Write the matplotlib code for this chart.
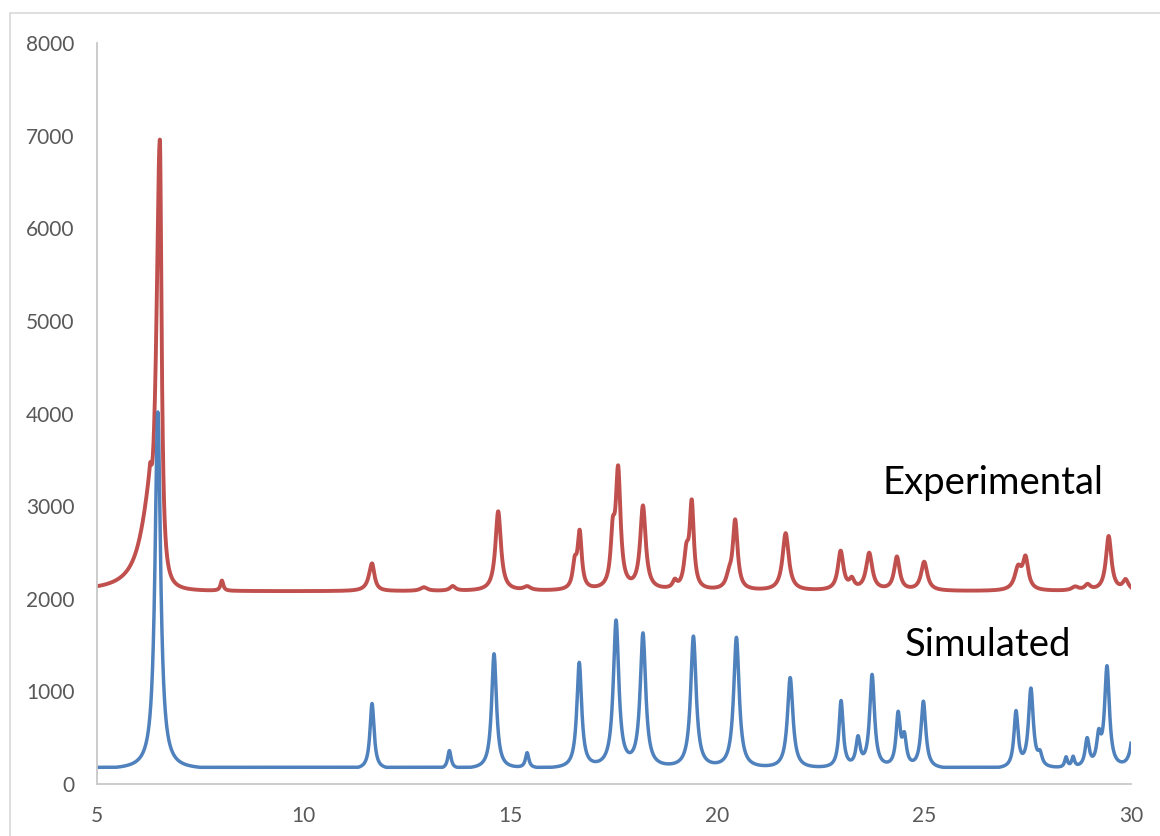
import numpy as np
import matplotlib
matplotlib.use("Agg")
import matplotlib.pyplot as plt
from matplotlib.patches import Rectangle

# ---------------- data ----------------
two_theta_min, two_theta_max, two_theta_step = 5.0, 30.0, 0.005

# Simulated pattern: peak positions (deg 2theta), peak heights, half widths
sim_baseline = 180
sim_threshold = 24
sim_pos = [6.47, 11.65, 13.52, 14.60, 15.40, 16.66, 17.55, 18.20, 19.42, 20.46,
           21.76, 22.99, 23.40, 23.74, 24.37, 24.52, 24.98, 27.22, 27.58, 27.80,
           28.43, 28.60, 28.94, 29.22, 29.42, 30.10]
sim_height = [3860, 710, 196, 1244, 164, 1136, 1580, 1440, 1420, 1410,
              980, 720, 300, 1000, 560, 300, 720, 600, 850, 120,
              110, 110, 300, 300, 1080, 800]
sim_hwhm = [0.08, 0.06, 0.05, 0.07, 0.05, 0.07, 0.08, 0.08, 0.08, 0.08,
            0.08, 0.06, 0.06, 0.07, 0.06, 0.06, 0.07, 0.06, 0.07, 0.06,
            0.04, 0.04, 0.06, 0.06, 0.07, 0.07]

# Experimental pattern: positions, heights above background, left/right half widths
exp_baseline = 2080
exp_pos = [6.52, 6.28, 8.02, 11.65, 12.90, 13.60, 14.70, 15.40, 16.55, 16.67,
           17.47, 17.60, 18.20, 18.97, 19.25, 19.38, 20.28, 20.43, 21.65, 22.98,
           23.25, 23.67, 24.34, 25.00, 27.27, 27.45, 28.65, 28.95, 29.46, 29.87]
exp_height = [4850, 650, 110, 300, 40, 50, 860, 40, 250, 600,
              500, 1250, 900, 80, 350, 900, 120, 740, 620, 420,
              100, 400, 360, 310, 230, 330, 40, 60, 590, 110]
exp_hwhm_left = [0.10, 0.30, 0.04, 0.09, 0.10, 0.08, 0.08, 0.10, 0.06, 0.06,
                 0.06, 0.07, 0.08, 0.06, 0.07, 0.06, 0.08, 0.07, 0.09, 0.08,
                 0.07, 0.09, 0.08, 0.09, 0.10, 0.08, 0.10, 0.08, 0.08, 0.08]
exp_hwhm_right = [0.05, 0.05, 0.04, 0.07, 0.10, 0.08, 0.08, 0.10, 0.06, 0.06,
                  0.06, 0.07, 0.08, 0.06, 0.07, 0.06, 0.08, 0.07, 0.09, 0.08,
                  0.07, 0.09, 0.08, 0.09, 0.10, 0.08, 0.10, 0.08, 0.08, 0.08]

x_ticks = [5, 10, 15, 20, 25, 30]
y_ticks = [0, 1000, 2000, 3000, 4000, 5000, 6000, 7000, 8000]
labels = ["Experimental", "Simulated"]

# ---------------- profiles ----------------
tt = np.arange(two_theta_min, two_theta_max + two_theta_step / 2, two_theta_step)

def lorentz(x, p, h, wl, wr):
    w = np.where(x < p, wl, wr)
    return h / (1.0 + ((x - p) / w) ** 2)

sim_sum = np.zeros_like(tt)
for p, h, w in zip(sim_pos, sim_height, sim_hwhm):
    sim_sum += lorentz(tt, p, h, w, w)
sim_y = sim_baseline + np.clip(sim_sum - sim_threshold, 0, None)

exp_y = np.full_like(tt, float(exp_baseline))
for p, h, wl, wr in zip(exp_pos, exp_height, exp_hwhm_left, exp_hwhm_right):
    exp_y += lorentz(tt, p, h, wl, wr)

# ---------------- drawing ----------------
plt.rcParams['font.family'] = ['Lato', 'DejaVu Sans']
fig = plt.figure(figsize=(11.6, 8.36), dpi=100)
W, H = 1160, 836
ax = fig.add_axes([97 / W, 1 - 784 / H, (1131 - 97) / W, (784 - 43) / H])

fig.patches.append(Rectangle((10 / W, -0.1), 1.2, 1 - 13 / H + 0.1,
                             transform=fig.transFigure, fill=False,
                             edgecolor='#d9d9d9', linewidth=1.2))

ax.plot(tt, exp_y, color='#c0504d', linewidth=2.8, solid_joinstyle='round')
ax.plot(tt, sim_y, color='#4f81bd', linewidth=2.5, solid_joinstyle='round')

ax.set_xlim(5, 30)
ax.set_ylim(0, 8000)
ax.set_xticks(x_ticks)
ax.set_yticks(y_ticks)
ax.set_xticklabels([str(v) for v in x_ticks])
ax.set_yticklabels([str(v) for v in y_ticks])
ax.tick_params(length=0, labelsize=15, labelcolor='#595959', pad=16)
for s in ['top', 'right']:
    ax.spines[s].set_visible(False)
for s in ['left', 'bottom']:
    ax.spines[s].set_color('#c8c8c8')
    ax.spines[s].set_linewidth(1.3)

ax.text(24.0, 3250, labels[0], fontsize=27.5, color='black', va='center', ha='left')
ax.text(24.54, 1500, labels[1], fontsize=27.5, color='black', va='center', ha='left')

fig.savefig('out.png', dpi=100)
